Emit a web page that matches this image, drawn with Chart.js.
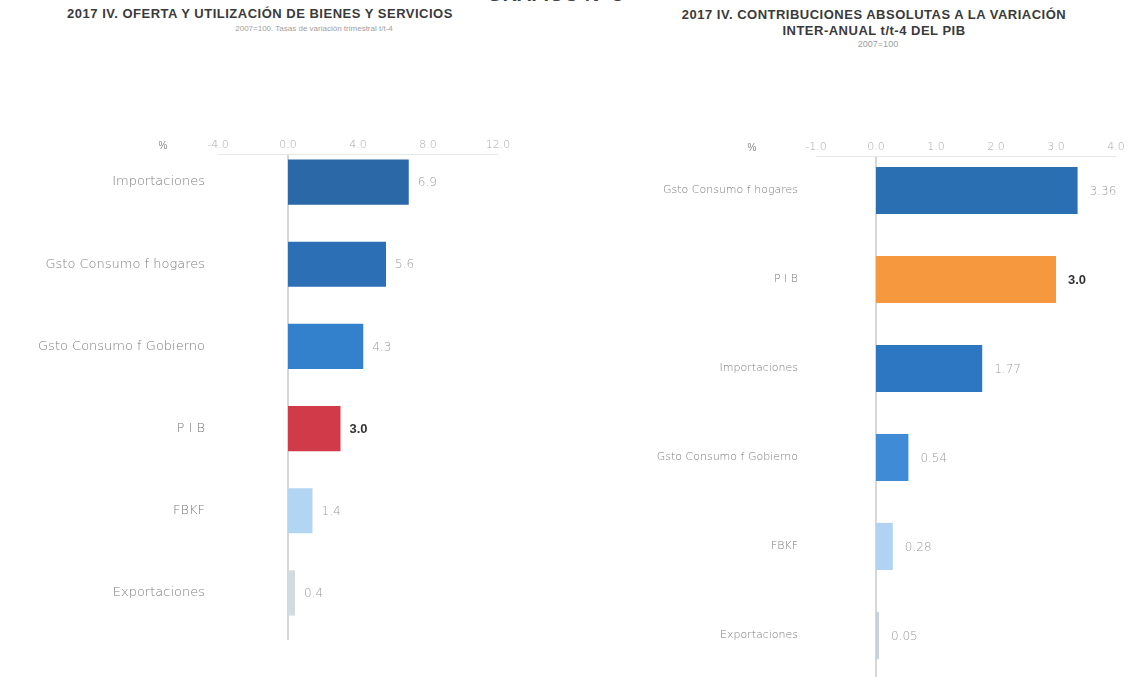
<!DOCTYPE html>
<html><head><meta charset="utf-8">
<script src="https://cdn.jsdelivr.net/npm/chart.js@4.4.1/dist/chart.umd.min.js"></script>
<style>
html,body{margin:0;padding:0;background:#fff;width:1132px;height:677px;overflow:hidden;position:relative;font-family:"Liberation Sans",Arial,sans-serif;}
.t{position:absolute;text-align:center;white-space:nowrap;}
.h{font-weight:bold;color:#3a3a3a;font-size:13px;letter-spacing:0.5px;}
.s{color:#a0a0a0;font-size:8px;}
canvas{position:absolute;}
</style></head><body>
<div class="t" style="left:455px;width:200px;top:-17px;font-size:20px;font-weight:bold;color:#444;">GRÁFICO Nº 3</div>
<div class="t h" style="left:60px;width:400px;top:6px;">2017 IV. OFERTA Y UTILIZACIÓN DE BIENES Y SERVICIOS</div>
<div class="t s" style="left:194px;width:240px;top:24px;">2007=100. Tasas de variación trimestral t/t-4</div>
<div class="t h" style="left:674px;width:400px;top:7px;">2017 IV. CONTRIBUCIONES ABSOLUTAS A LA VARIACIÓN</div>
<div class="t h" style="left:674px;width:400px;top:23px;">INTER-ANUAL t/t-4 DEL PIB</div>
<div class="t s" style="left:828px;width:100px;top:39px;font-size:9px;">2007=100</div>
<canvas id="c1" width="560" height="677" style="left:0;top:0;"></canvas>
<canvas id="c2" width="572" height="700" style="left:560px;top:0;"></canvas>
<script>
// ---- Data ----
const leftCategories = ["Importaciones","Gsto Consumo f hogares","Gsto Consumo f Gobierno","P I B","FBKF","Exportaciones"];
const leftValues = [6.9, 5.6, 4.3, 3.0, 1.4, 0.4];
const leftTicks = [-4, 0, 4, 8, 12];
const rightCategories = ["Gsto Consumo f hogares","P I B","Importaciones","Gsto Consumo f Gobierno","FBKF","Exportaciones"];
const rightValues = [3.36, 3.0, 1.77, 0.54, 0.28, 0.05];
const rightTicks = [-1, 0, 1, 2, 3, 4];
const leftHighlight = 3;
const rightHighlight = 1;

// ---- Styles ----
const leftColors = [["#2a68a8","#3b86cc","#24609c"],["#2c6fb4","#3d8bd2","#2766a6"],["#3381cc","#4c9be2","#2f78c0"],["#d13a48","#e25562","#c9343f"],["#b3d5f4","#92bde8","#6c9bcd"],["#d2dae2","#c0c9d3","#a9b4c1"]];
const rightColors = [["#2b6fb3","#3c89d0","#2767a8"],["#f6983e","#f9a552","#f2923a"],["#2d76c2","#3f8ddb","#296eb5"],["#3f8bd6","#5ba5e8","#3a83cc"],["#b0d3f3","#8fbbe6","#6b9acc"],["#c8d1da","#b8c3cf","#a6b2c0"]];
const LABEL_FONT = '"DejaVu Sans", "Liberation Sans", Arial, sans-serif';

function makeGradient(colors){
  return function(ctx){
    const chart = ctx.chart;
    const meta = chart.getDatasetMeta(0);
    const el = meta.data[ctx.dataIndex];
    const c = colors[ctx.dataIndex];
    if(!el || !chart.chartArea) return c[0];
    const h = el.height || 40;
    const y0 = el.y - h/2, y1 = el.y + h/2;
    if(!isFinite(y0) || !isFinite(y1) || y0===y1) return c[0];
    const g = chart.ctx.createLinearGradient(0,y0,0,y1);
    g.addColorStop(0,c[0]); g.addColorStop(0.4,c[1]); g.addColorStop(1,c[2]);
    return g;
  };
}

const valueLabels = {
  id:'valueLabels',
  afterDatasetsDraw(chart, args, opts){
    const ctx = chart.ctx;
    const meta = chart.getDatasetMeta(0);
    const vals = chart.data.datasets[0].data;
    meta.data.forEach((bar,i)=>{
      const hl = i===opts.highlight;
      const txt = hl ? vals[i].toFixed(1) : vals[i].toFixed(opts.decimals);
      ctx.save();
      ctx.font = hl ? 'bold 13px "Liberation Sans", Arial, sans-serif' : '300 12px ' + LABEL_FONT;
      ctx.fillStyle = hl ? '#333' : '#9a9a9a';
      ctx.textBaseline = 'middle';
      ctx.textAlign = 'left';
      ctx.fillText(txt, bar.x + opts.gap, bar.y + 1);
      ctx.restore();
    });
  }
};

const topAxis = {
  id:'topAxis',
  beforeDatasetsDraw(chart, args, opts){
    const ctx = chart.ctx;
    const xs = chart.scales.x;
    const x0 = Math.round(xs.getPixelForValue(0));
    ctx.save();
    ctx.strokeStyle = '#c8c8c8'; ctx.lineWidth = 1.5;
    ctx.beginPath(); ctx.moveTo(x0, opts.y + 10); ctx.lineTo(x0, opts.zeroBottom); ctx.stroke();
    ctx.restore();
  },
  afterDraw(chart, args, opts){
    const ctx = chart.ctx;
    const xs = chart.scales.x;
    ctx.save();
    ctx.font = '300 11px ' + LABEL_FONT;
    ctx.fillStyle = '#a8a8a8';
    ctx.textAlign='center'; ctx.textBaseline='middle';
    xs.ticks.forEach(t=>{
      ctx.fillText(Number(t.value).toFixed(1), xs.getPixelForValue(t.value), opts.y);
    });
    ctx.strokeStyle = '#e8e8e8'; ctx.lineWidth = 1;
    ctx.beginPath(); ctx.moveTo(xs.left, opts.y+9.5); ctx.lineTo(xs.right, opts.y+9.5); ctx.stroke();
    ctx.font = '10px "Liberation Sans", Arial, sans-serif';
    ctx.fillStyle = '#888';
    ctx.fillText('%', opts.pctX, opts.pctY);
    ctx.restore();
  }
};

function build(id, cats, vals, ticks, colors, cfg){
  return new Chart(document.getElementById(id), {
    type:'bar',
    data:{labels:cats, datasets:[{data:vals, backgroundColor:makeGradient(colors), borderWidth:0, barPercentage:cfg.barPct, categoryPercentage:1}]},
    plugins:[valueLabels, topAxis],
    options:{
      indexAxis:'y', responsive:false, animation:false, devicePixelRatio:1,
      layout:{padding:{top:cfg.padTop, right:cfg.padRight, bottom:cfg.padBottom, left:0}},
      plugins:{legend:{display:false}, tooltip:{enabled:false},
        valueLabels:{highlight:cfg.highlight, decimals:cfg.decimals, gap:cfg.gap},
        topAxis:{y:cfg.tickY, pctX:cfg.pctX, pctY:cfg.pctY, zeroBottom:cfg.zeroBottom}},
      scales:{
        x:{position:'top', min:ticks[0], max:ticks[ticks.length-1],
          afterBuildTicks(scale){ scale.ticks = ticks.map(v=>({value:v})); },
          ticks:{display:false},
          grid:{display:false},
          border:{display:false}
        },
        y:{afterFit(scale){ scale.width = cfg.yWidth; },
          ticks:{padding:cfg.yPad, color:'#7c7c7c', font:{size:cfg.catFont, weight:'300', family:LABEL_FONT}},
          grid:{display:false}, border:{display:false}
        }
      }
    }
  });
}

build('c1', leftCategories, leftValues, leftTicks, leftColors,
  {padTop:133, padRight:62, padBottom:43, yWidth:218, yPad:5, tickY:145, zeroBottom:640, highlight:leftHighlight, decimals:1, gap:9, barPct:0.55, catFont:13, pctX:163, pctY:146});
build('c2', rightCategories, rightValues, rightTicks, rightColors,
  {padTop:138, padRight:16, padBottom:20, yWidth:256, yPad:10, tickY:147, zeroBottom:677, highlight:rightHighlight, decimals:2, gap:12, barPct:0.53, catFont:11, pctX:192, pctY:148});
</script>
</body></html>
